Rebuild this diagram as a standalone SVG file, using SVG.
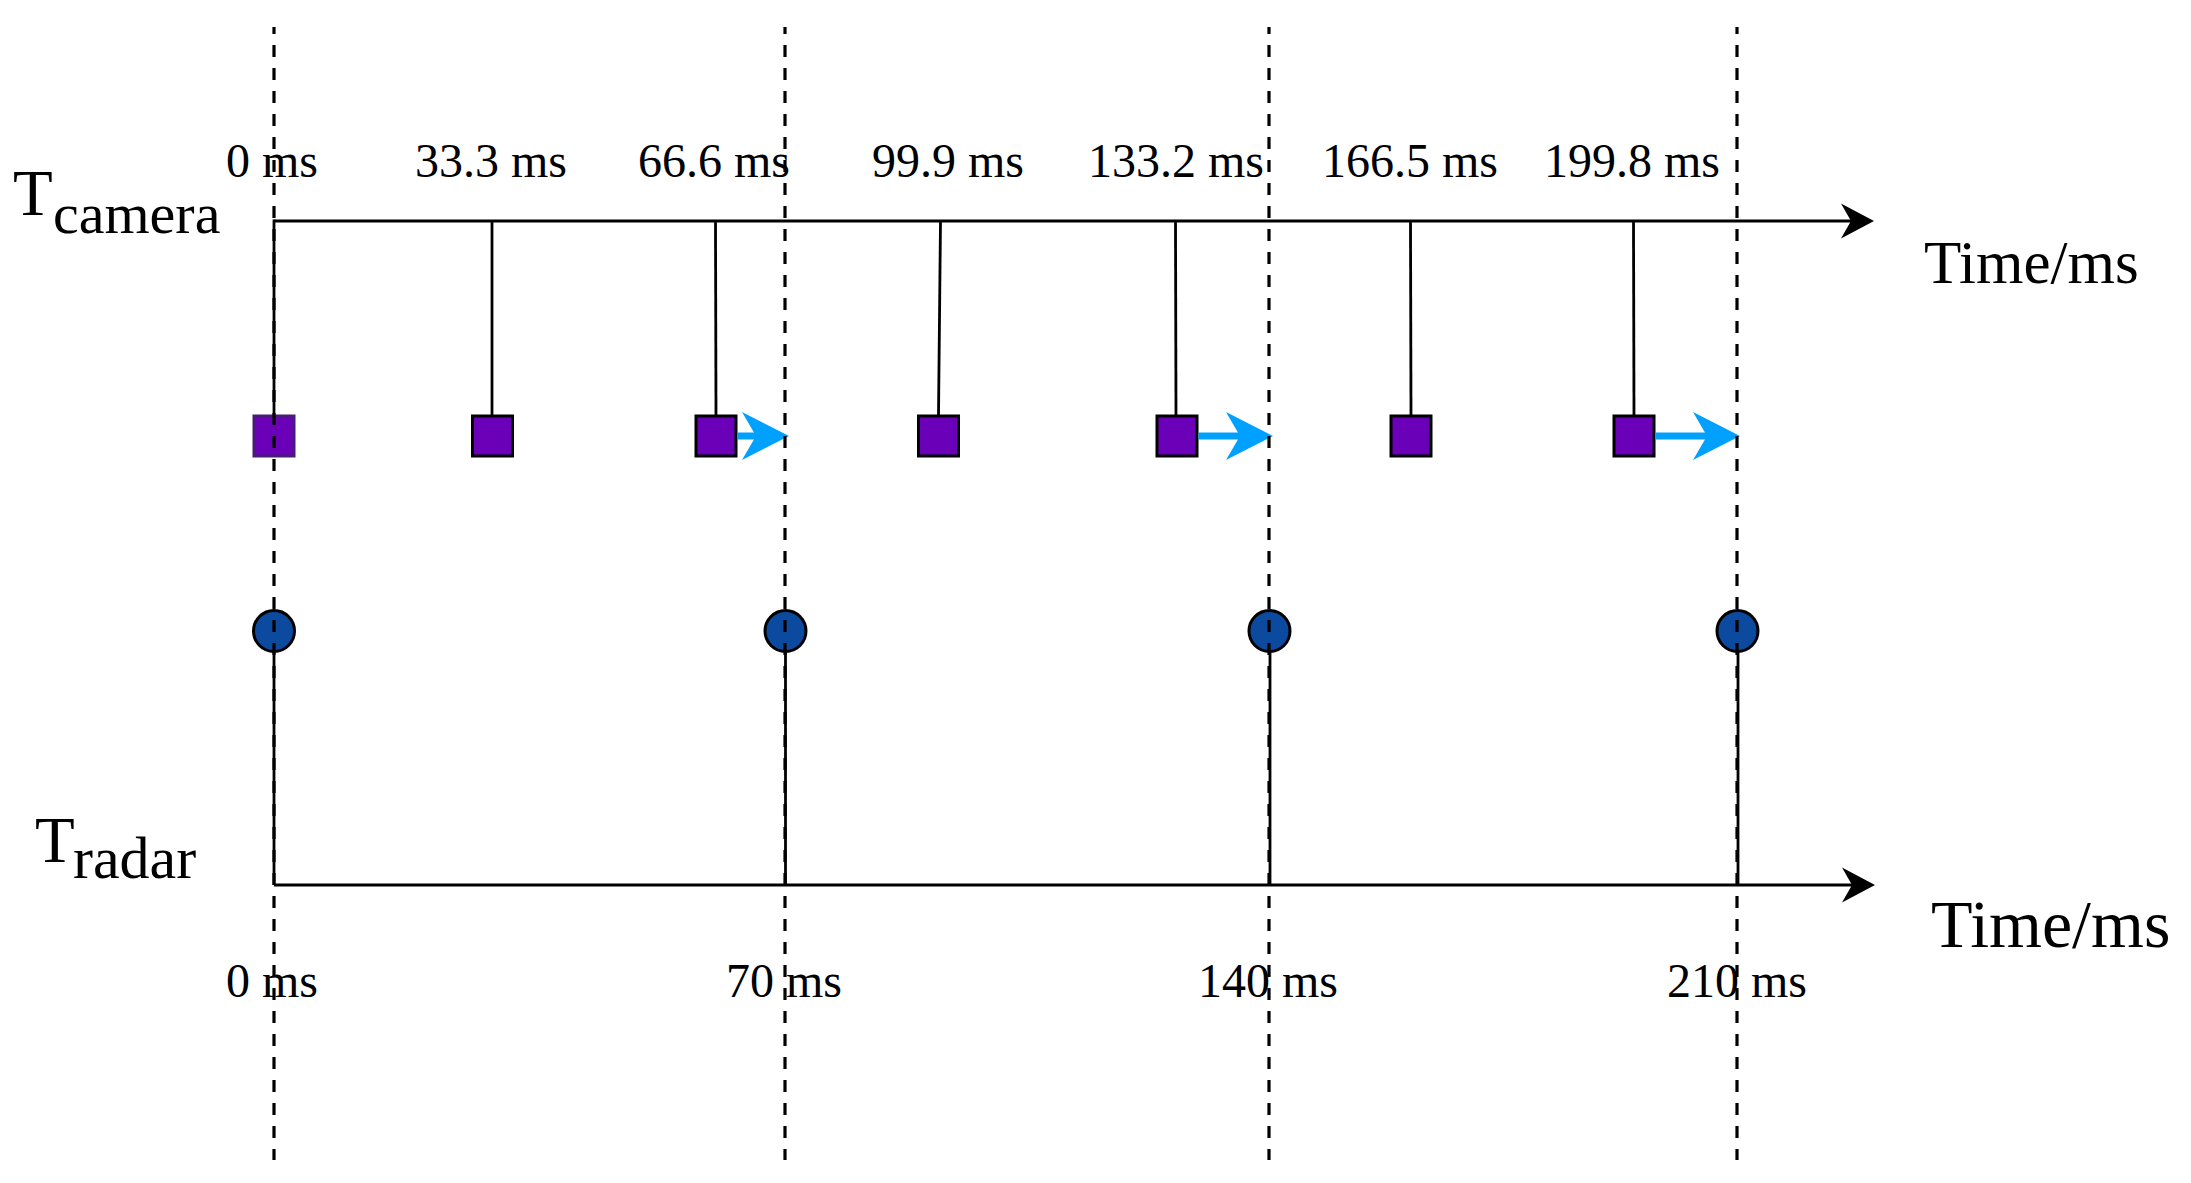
<svg xmlns="http://www.w3.org/2000/svg" width="2191" height="1183" viewBox="0 0 2191 1183">
<style>
.axis{stroke:#000;stroke-width:3.2;fill:none}
.stem{stroke:#000;stroke-width:2.8;fill:none}
.cam{fill:#6a00b8;stroke:#000;stroke-width:3}
.rad{fill:#0b4a9e;stroke:#000;stroke-width:3}
.shift{stroke:#00a0ff;stroke-width:7;fill:none}
.guide{stroke:#000;stroke-width:3.2;stroke-dasharray:12 11;stroke-dashoffset:5}
text{font-family:"Liberation Serif","Times New Roman",serif;fill:#000}
.tick{font-size:48px;text-anchor:middle}
.unit{font-size:61px}
.big{font-size:65px}
.sub{font-size:58px}
</style>
<defs>
<marker id="axhead" viewBox="-34 -18 35 36" markerWidth="35" markerHeight="36" refX="-14" refY="0" orient="auto" markerUnits="userSpaceOnUse">
<path d="M0,0 L-33,-17.5 L-23,0 L-33,17.5 Z" fill="#000"/>
</marker>
<marker id="bluehead" viewBox="-48 -25 49 50" markerWidth="49" markerHeight="50" refX="-20" refY="0" orient="auto" markerUnits="userSpaceOnUse">
<path d="M0,0 L-47,-24 L-33,0 L-47,24 Z" fill="#00a0ff"/>
</marker>
</defs>
<rect width="2191" height="1183" fill="#fff"/>

<g id="labels">
<text class="big" x="13" y="215">T<tspan class="sub" x="53" y="233">camera</tspan></text>
<text class="big" x="35" y="862">T<tspan class="sub" x="73" y="878" style="font-size:60px">radar</tspan></text>
<text class="unit" x="1924" y="283">Time/ms</text>
<text class="unit" x="1931" y="947" style="font-size:68px">Time/ms</text>
<text class="tick" x="272" y="177">0 ms</text>
<text class="tick" x="491" y="177">33.3 ms</text>
<text class="tick" x="714" y="177">66.6 ms</text>
<text class="tick" x="948" y="177">99.9 ms</text>
<text class="tick" x="1176" y="177">133.2 ms</text>
<text class="tick" x="1410" y="177">166.5 ms</text>
<text class="tick" x="1632" y="177">199.8 ms</text>
<text class="tick" x="272" y="997">0 ms</text>
<text class="tick" x="784" y="997">70 ms</text>
<text class="tick" x="1268" y="997">140 ms</text>
<text class="tick" x="1737" y="997">210 ms</text>
</g>

<g id="camera-axis">
<line class="axis" x1="274" y1="221" x2="1860" y2="221" marker-end="url(#axhead)"/>
</g>
<g id="radar-axis">
<line class="axis" x1="274" y1="885" x2="1861" y2="885" marker-end="url(#axhead)"/>
</g>

<g id="cam-0"><line class="stem" x1="274" y1="219.5" x2="274" y2="416"/><rect class="cam" x="254" y="416" width="40" height="40" style="stroke:#4a1a78"/></g>
<g id="cam-33"><line class="stem" x1="492" y1="221" x2="492" y2="416"/><rect class="cam" x="472.5" y="416" width="40" height="40"/></g>
<g id="cam-66"><line class="stem" x1="715.5" y1="221" x2="716" y2="416"/><rect class="cam" x="696" y="416" width="40" height="40"/></g>
<g id="cam-99"><line class="stem" x1="940.5" y1="221" x2="938.5" y2="416"/><rect class="cam" x="918.5" y="416" width="40" height="40"/></g>
<g id="cam-133"><line class="stem" x1="1175.5" y1="221" x2="1176" y2="416"/><rect class="cam" x="1157" y="416" width="40" height="40"/></g>
<g id="cam-166"><line class="stem" x1="1410.5" y1="221" x2="1411" y2="416"/><rect class="cam" x="1391" y="416" width="40" height="40"/></g>
<g id="cam-199"><line class="stem" x1="1633.5" y1="221" x2="1634" y2="416"/><rect class="cam" x="1614" y="416" width="40" height="40"/></g>

<g id="rad-0"><line class="stem" x1="274" y1="652" x2="274" y2="885"/><circle class="rad" cx="274" cy="631" r="20.5"/></g>
<g id="rad-70"><line class="stem" x1="785.5" y1="652" x2="785.5" y2="885"/><circle class="rad" cx="785.5" cy="631" r="20.5"/></g>
<g id="rad-140"><line class="stem" x1="1270" y1="652" x2="1270" y2="885"/><circle class="rad" cx="1269.5" cy="631" r="20.5"/></g>
<g id="rad-210"><line class="stem" x1="1738" y1="652" x2="1738" y2="885"/><circle class="rad" cx="1737.5" cy="631" r="20.5"/></g>

<g id="connectors">
<line class="shift" x1="737.5" y1="436" x2="769" y2="436" marker-end="url(#bluehead)"/>
<line class="shift" x1="1198.5" y1="436" x2="1253" y2="436" marker-end="url(#bluehead)"/>
<line class="shift" x1="1655.5" y1="436" x2="1720" y2="436" marker-end="url(#bluehead)"/>
</g>

<g id="guides">
<line class="guide" x1="274" y1="27" x2="274" y2="1160"/>
<line class="guide" x1="785" y1="27" x2="785" y2="1160"/>
<line class="guide" x1="1269" y1="27" x2="1269" y2="1160"/>
<line class="guide" x1="1737" y1="27" x2="1737" y2="1160"/>
</g>
</svg>
